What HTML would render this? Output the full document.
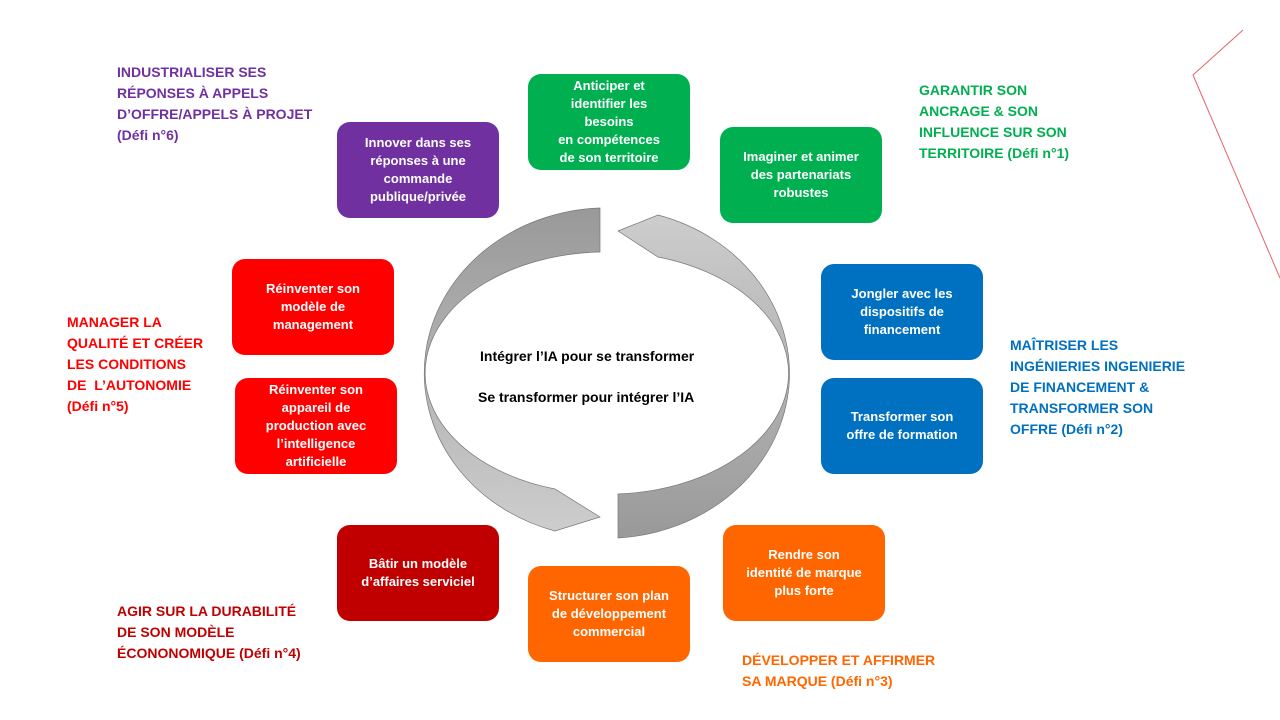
<!DOCTYPE html>
<html><head><meta charset="utf-8"><style>
body{margin:0;width:1280px;height:720px;background:#fff;position:relative;overflow:hidden;font-family:"Liberation Sans",sans-serif}
.b{position:absolute;width:162px;height:96px;border-radius:13px;color:#fff;font-weight:bold;font-size:13px;line-height:18px;display:flex;align-items:center;justify-content:center;text-align:center}
.l{position:absolute;font-weight:bold;font-size:14px;line-height:21px}
.c{position:absolute;font-weight:bold;font-size:14px;color:#000}
</style></head><body>
<svg width="1280" height="720" style="position:absolute;left:0;top:0">
<defs>
<linearGradient id="g1" x1="0" y1="0" x2="0" y2="1"><stop offset="0" stop-color="#999"/><stop offset="1" stop-color="#cdcdcd"/></linearGradient>
<linearGradient id="g2" x1="0" y1="0" x2="0" y2="1"><stop offset="0" stop-color="#cdcdcd"/><stop offset="1" stop-color="#999"/></linearGradient>
</defs>
<path d="M600,208 A183,165 0 0 0 555,531 L600,517 L555,489 A181,121 0 0 1 600,252 Z" fill="url(#g1)" stroke="#777" stroke-width="0.7"/>
<path d="M618,538 A183,165 0 0 0 658,215 L618,231 L658,257 A181,121 0 0 1 618,494 Z" fill="url(#g2)" stroke="#777" stroke-width="0.7"/>
<polyline points="1243,30 1193,75 1280,278" fill="none" stroke="#e8606a" stroke-width="1"/>
</svg>
<div class="c" style="left:480px;top:348px">Intégrer l’IA pour se transformer</div>
<div class="c" style="left:478px;top:389px">Se transformer pour intégrer l’IA</div>

<div class="b" style="left:528px;top:74px;background:#00b050">Anticiper et<br>identifier les<br>besoins<br>en compétences<br>de son territoire</div>
<div class="b" style="left:720px;top:127px;background:#00b050">Imaginer et animer<br>des partenariats<br>robustes</div>
<div class="b" style="left:337px;top:122px;background:#7030a0">Innover dans ses<br>réponses à une<br>commande<br>publique/privée</div>
<div class="b" style="left:232px;top:259px;background:#ff0000">Réinventer son<br>modèle de<br>management</div>
<div class="b" style="left:235px;top:378px;background:#ff0000">Réinventer son<br>appareil de<br>production avec<br>l’intelligence<br>artificielle</div>
<div class="b" style="left:821px;top:264px;background:#0070c0">Jongler avec les<br>dispositifs de<br>financement</div>
<div class="b" style="left:821px;top:378px;background:#0070c0">Transformer son<br>offre de formation</div>
<div class="b" style="left:337px;top:525px;background:#c00000">Bâtir un modèle<br>d’affaires serviciel</div>
<div class="b" style="left:528px;top:566px;background:#ff6600">Structurer son plan<br>de développement<br>commercial</div>
<div class="b" style="left:723px;top:525px;background:#ff6600">Rendre son<br>identité de marque<br>plus forte</div>

<div class="l" style="left:117px;top:62px;color:#7030a0">INDUSTRIALISER SES<br>RÉPONSES À APPELS<br>D’OFFRE/APPELS À PROJET<br>(Défi n°6)</div>
<div class="l" style="left:919px;top:80px;color:#00b050">GARANTIR SON<br>ANCRAGE &amp; SON<br>INFLUENCE SUR SON<br>TERRITOIRE (Défi n°1)</div>
<div class="l" style="left:67px;top:312px;color:#ff0000">MANAGER LA<br>QUALITÉ ET CRÉER<br>LES CONDITIONS<br>DE &nbsp;L’AUTONOMIE<br>(Défi n°5)</div>
<div class="l" style="left:1010px;top:335px;color:#0070c0">MAÎTRISER LES<br>INGÉNIERIES INGENIERIE<br>DE FINANCEMENT &amp;<br>TRANSFORMER SON<br>OFFRE (Défi n°2)</div>
<div class="l" style="left:117px;top:601px;color:#c00000">AGIR SUR LA DURABILITÉ<br>DE SON MODÈLE<br>ÉCONONOMIQUE (Défi n°4)</div>
<div class="l" style="left:742px;top:650px;color:#ff6600">DÉVELOPPER ET AFFIRMER<br>SA MARQUE (Défi n°3)</div>
</body></html>
